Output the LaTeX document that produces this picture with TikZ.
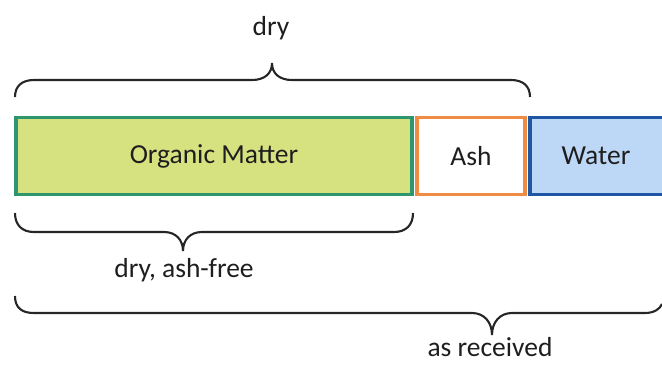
\documentclass[tikz,border=0pt]{standalone}
\usepackage{fontspec}
\setmainfont{Carlito}
\definecolor{orgfill}{RGB}{214,226,128}
\definecolor{orgline}{RGB}{46,150,110}
\definecolor{ashline}{RGB}{238,140,70}
\definecolor{watfill}{RGB}{189,215,247}
\definecolor{watline}{RGB}{30,85,165}
\definecolor{txt}{RGB}{30,30,30}
\begin{document}
\begin{tikzpicture}[x=1pt,y=-1pt,
  part/.style={draw,line width=3.2pt,minimum height=77pt,inner sep=0pt,font=\fontsize{27.5}{30}\selectfont,text=txt},
  brace/.style={draw=black!85,line width=2.1pt},
  lbl/.style={font=\fontsize{27.5}{30}\selectfont,text=txt,inner sep=0pt}]
\useasboundingbox (0,0) rectangle (662,365);
\clip (0,0) rectangle (662,365);
\node[part,fill=orgfill,draw=orgline,minimum width=396pt] (org) at (214,156) {Organic Matter};
\node[part,fill=white,draw=ashline,minimum width=108pt] (ash) at (471,156) {Ash};
\node[part,fill=watfill,draw=watline,minimum width=140pt] (wat) at (600,156) {\hspace*{-8pt}Water};
% top brace
\path[brace] (15,97) .. controls (15,86) and (22,80) .. (34,80) -- (252,80)
  .. controls (264,80) and (272,74) .. (272,63)
  .. controls (272,74) and (280,80) .. (292,80) -- (511,80)
  .. controls (523,80) and (530,86) .. (530,97);
\node[lbl] (dry) at (271,28) {dry};
% middle brace
\path[brace] (15,213) .. controls (15,225) and (22,232) .. (34,232) -- (164,232)
  .. controls (176,232) and (183,240) .. (183,251)
  .. controls (183,240) and (190,232) .. (202,232) -- (394,232)
  .. controls (406,232) and (413,225) .. (413,213);
\node[lbl] (daf) at (184,270) {dry, ash-free};
% bottom brace
\path[brace] (15,296) .. controls (15,308) and (22,313) .. (34,313) -- (472,313)
  .. controls (484,313) and (492,322) .. (492,335)
  .. controls (492,322) and (500,313) .. (512,313) -- (645,313)
  .. controls (654,313) and (660,309) .. (662,304);
\node[lbl,anchor=base] (asr) at (490,356) {as received};
\end{tikzpicture}
\end{document}
